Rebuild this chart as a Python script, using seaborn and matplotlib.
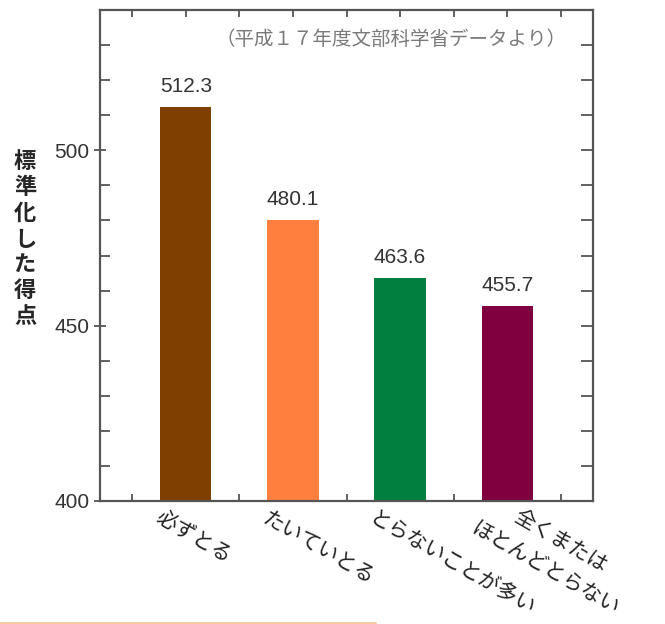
import seaborn as sns
import matplotlib.pyplot as plt
import matplotlib.transforms as mtransforms
from matplotlib.lines import Line2D
from matplotlib.ticker import MultipleLocator, FixedLocator

# data
categories = ["必ずとる", "たいていとる", "とらないことが多い", "全くまたは\nほとんどとらない"]
scores = [512.3, 480.1, 463.6, 455.7]
colors = ["#7f3f00", "#ff7f3f", "#007f3f", "#7f003f"]
ylabel_text = "標準化した得点"
note_text = "（平成１７年度文部科学省データより）"

sns.set_style("ticks")
plt.rcParams['font.family'] = ['Liberation Sans', 'Noto Sans CJK JP', 'DejaVu Sans']

fig = plt.figure(figsize=(6.65, 6.24), dpi=100)
ax = fig.add_axes([100/665, 1-501/624, 493/665, 491/624])

sns.barplot(x=categories, y=scores, hue=categories, palette=colors,
            saturation=1, legend=False, width=0.48, linewidth=0, ax=ax)

ax.set_xlim(-0.8, 3.8)
ax.set_ylim(400, 540)
ax.set_yticks([400, 450, 500])
ax.yaxis.set_minor_locator(MultipleLocator(10))
ax.xaxis.set_minor_locator(FixedLocator([-0.5, 0.5, 1.5, 2.5, 3.5]))

for side in ax.spines:
    ax.spines[side].set_color("#555555")
    ax.spines[side].set_linewidth(1.6)

ax.tick_params(axis='y', which='major', direction='inout', length=9, width=1.3,
               color="#555555", labelsize=15, labelcolor="#333333", pad=3)
ax.tick_params(axis='y', which='minor', direction='in', length=7, width=1.3,
               color="#555555")
ax.tick_params(axis='x', which='both', direction='in', length=5, width=1.3,
               color="#555555", top=True, pad=0)

# right side: all ticks point inward
ax_r = ax.twinx()
ax_r.set_ylim(400, 540)
ax_r.yaxis.set_major_locator(MultipleLocator(10))
ax_r.tick_params(axis='y', direction='in', length=9, width=1.3,
                 color="#555555", labelright=False)
ax_r.spines[:].set_visible(False)

# value labels above bars
for cont in ax.containers:
    ax.bar_label(cont, fmt='%.1f', padding=8, fontsize=15, color="#333333")

# rotated japanese category labels
ax.set_xticks(range(len(categories)))
ax.set_xticklabels(categories, rotation=-30, ha='left', va='baseline',
                   rotation_mode='anchor', fontsize=15, color="#222222",
                   multialignment='center', linespacing=1.72)
shift = mtransforms.ScaledTranslation(-32/100, -21/100, fig.dpi_scale_trans)
for lbl in ax.get_xticklabels():
    lbl.set_transform(lbl.get_transform() + shift)

ax.set_xlabel("")
ax.set_ylabel("\n".join(ylabel_text), rotation=0, fontsize=16,
              fontweight='bold', linespacing=1.3, ha='center', va='center')
ax.yaxis.set_label_coords(-0.152, 0.532)

ax.text(0.59, 0.939, note_text, transform=ax.transAxes, ha='center',
        va='center', fontsize=14, color="#7a7a7a")

# faint line at bottom of the screenshot
fig.add_artist(Line2D([0, 375/665], [1-623/624, 1-623/624], color="#f8c8a0",
                      lw=2, transform=fig.transFigure))

plt.savefig("out.png", dpi=100)
